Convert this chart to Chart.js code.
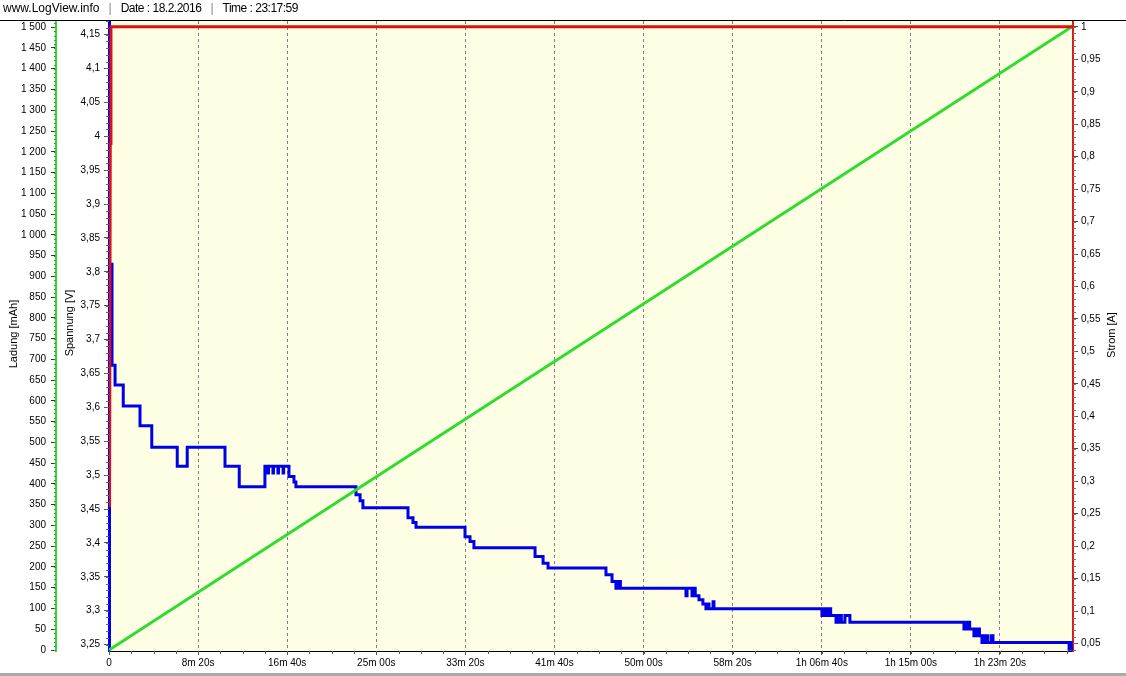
<!DOCTYPE html>
<html>
<head>
<meta charset="utf-8">
<script src="https://cdn.jsdelivr.net/npm/chart.js@4.4.1/dist/chart.umd.min.js"></script>
<style>
  html, body { margin: 0; padding: 0; background: #fff; }
  #wrap { position: relative; width: 1126px; height: 676px; }
  #head { position: absolute; left: 3px; top: 1px; font: 12px "Liberation Sans", Arial, sans-serif; color: #000; white-space: pre; }
  #head .sep { color: #888; margin: 0 9px; }
  #head .tight { letter-spacing: -0.5px; }
  canvas { position: absolute; left: 0; top: 0; }
</style>
</head>
<body>
<div id="wrap">
  <canvas id="logChart" width="1126" height="676"></canvas>
  <div id="head">www.LogView.info<span class="sep">|</span><span class="tight">Date : 18.2.2016</span><span class="sep">|</span><span class="tight">Time : 23:17:59</span></div>
</div>
<script>
// time axis ticks (s) and their labels
const timeTicks = [0, 500, 1000, 1500, 2000, 2500, 3000, 3500, 4000, 4500, 5000];
const timeLabels = ['0', '8m 20s', '16m 40s', '25m 00s', '33m 20s', '41m 40s', '50m 00s',
  '58m 20s', '1h 06m 40s', '1h 15m 00s', '1h 23m 20s'];

// Spannung [V], logged in steps (time in s -> new value)
const voltT = [0, 17, 34, 80, 174, 240, 383, 439, 651, 731,
  875, 892, 895, 920, 923, 948, 951, 977, 980, 1010, 1038, 1049,
  1386, 1409, 1425, 1678, 1706, 1723, 1998, 2026, 2048, 2391, 2436, 2464,
  2789, 2823, 2845, 2860, 2870, 3238, 3244, 3272, 3280, 3290, 3311, 3333, 3350, 3358, 3367, 3390, 3395,
  4001, 4010, 4020, 4035, 4050, 4080, 4095, 4110, 4130, 4158,
  4798, 4815, 4830, 4854, 4870, 4885, 4899, 4915, 4930, 4950, 4961,
  5388, 5395, 5400, 5410];
const voltV = [3.811, 3.662, 3.633, 3.602, 3.573, 3.541, 3.513, 3.541, 3.513, 3.483,
  3.513, 3.503, 3.513, 3.503, 3.513, 3.503, 3.513, 3.503, 3.513, 3.498, 3.49, 3.483,
  3.471, 3.462, 3.452, 3.437, 3.43, 3.423, 3.409, 3.402, 3.393, 3.38, 3.37, 3.363,
  3.353, 3.343, 3.333, 3.343, 3.333, 3.322, 3.333, 3.322, 3.333, 3.322, 3.316, 3.31, 3.303, 3.31, 3.303, 3.313, 3.303,
  3.293, 3.303, 3.293, 3.303, 3.293, 3.283, 3.293, 3.283, 3.293, 3.283,
  3.273, 3.283, 3.273, 3.263, 3.273, 3.263, 3.253, 3.263, 3.253, 3.263, 3.253,
  3.243, 3.253, 3.243, 3.243];

// Strom [A]
const currT = [3, 7, 11, 5410];
const currA = [0.26, 0.82, 1.0, 1.0];

// Ladung [mAh]
const chargeT = [0, 1409, 5410];
const chargeMah = [0, 392, 1503];

const toXY = (xs, ys) => xs.map((x, i) => ({ x: x, y: ys[i] }));
const comma = v => String(Math.round(v * 1000) / 1000).replace('.', ',');
const thousands = v => v >= 1000 ? Math.floor(v / 1000) + ' ' + String(v % 1000).padStart(3, '0') : String(v);

Chart.defaults.font.family = '"Liberation Sans", Arial, sans-serif';
Chart.defaults.font.size = 10;
Chart.defaults.color = '#000';

function minorTicks(ctx, scale, step, len, color, side) {
  ctx.save();
  ctx.strokeStyle = color;
  ctx.lineWidth = 1;
  ctx.beginPath();
  const first = Math.ceil(scale.min / step);
  const last = Math.floor(scale.max / step);
  for (let k = first; k <= last; k++) {
    const p = Math.round(scale.getPixelForValue(k * step)) + 0.5;
    if (side === 'bottom') { ctx.moveTo(p, scale.top); ctx.lineTo(p, scale.top + len); }
    else if (side === 'left') { ctx.moveTo(scale.right - len, p); ctx.lineTo(scale.right, p); }
    else { ctx.moveTo(scale.left, p); ctx.lineTo(scale.left + len, p); }
  }
  ctx.stroke();
  ctx.restore();
}

function vTitle(ctx, text, x, y) {
  ctx.save();
  ctx.translate(x, y);
  ctx.rotate(-Math.PI / 2);
  ctx.font = '11px "Liberation Sans", Arial, sans-serif';
  ctx.fillStyle = '#000';
  ctx.textAlign = 'center';
  ctx.textBaseline = 'middle';
  ctx.fillText(text, 0, 0);
  ctx.restore();
}

const frame = {
  id: 'frame',
  beforeDraw(chart) {
    const { ctx, chartArea: a } = chart;
    ctx.save();
    ctx.fillStyle = '#fff';
    ctx.fillRect(0, 0, chart.width, chart.height);
    ctx.fillStyle = '#FEFEE4';
    ctx.fillRect(a.left, a.top, a.right - a.left, a.bottom - a.top);
    ctx.restore();
  },
  afterDraw(chart) {
    const { ctx, chartArea: a, scales: s } = chart;
    minorTicks(ctx, s.x, 125, 3, '#555', 'bottom');
    minorTicks(ctx, s.yL, 10, 2, '#3a3', 'left');
    minorTicks(ctx, s.yV, 0.01, 3, '#668', 'left');
    minorTicks(ctx, s.yA, 0.01, 3, '#a66', 'right');
    ctx.save();
    ctx.strokeStyle = '#000';
    ctx.lineWidth = 1;
    ctx.beginPath();
    ctx.moveTo(0, a.top - 0.5);
    ctx.lineTo(chart.width, a.top - 0.5);
    ctx.stroke();
    ctx.fillStyle = '#ABABAB';
    ctx.fillRect(0, 673, chart.width, 3);
    ctx.restore();
    vTitle(ctx, 'Ladung [mAh]', 14, 334);
    vTitle(ctx, 'Spannung [V]', 70, 323);
    vTitle(ctx, 'Strom [A]', 1112, 335);
  }
};

new Chart(document.getElementById('logChart'), {
  type: 'line',
  data: {
    datasets: [
      { label: 'Strom', data: toXY(currT, currA), yAxisID: 'yA', borderColor: '#E01010', borderWidth: 3 },
      { label: 'Ladung', data: toXY(chargeT, chargeMah), yAxisID: 'yL', borderColor: '#2FDC2F', borderWidth: 3 },
      { label: 'Spannung', data: toXY(voltT, voltV), yAxisID: 'yV', borderColor: '#0000E8', borderWidth: 3, stepped: true }
    ]
  },
  options: {
    responsive: false,
    animation: false,
    events: [],
    layout: { padding: { top: 21, left: 0, right: 0, bottom: 0 }, autoPadding: false },
    elements: { point: { radius: 0 }, line: { tension: 0 } },
    plugins: { legend: { display: false }, tooltip: { enabled: false }, title: { display: false } },
    scales: {
      x: {
        type: 'linear', min: 0, max: 5410,
        afterFit: s => { s.height = 25; },
        // fixed ticks: the auto step would be stretched to 5410/11
        afterBuildTicks: s => { s.ticks = timeTicks.map(v => ({ value: v })); },
        ticks: { autoSkip: false, maxRotation: 0, padding: 2,
          callback: (v, i) => timeLabels[i] ?? '' },
        grid: { color: '#808080', lineWidth: 1, tickLength: 4, tickColor: '#555' },
        border: { color: '#000', width: 1, dash: [3, 3] }
      },
      yL: {
        type: 'linear', position: 'left', weight: 1, min: -2.4, max: 1515,
        afterFit: s => { s.width = 56; },
        ticks: { stepSize: 50, includeBounds: false, autoSkip: false, padding: 5, callback: v => thousands(v) },
        grid: { drawOnChartArea: false, tickLength: 5, tickColor: '#333' },
        border: { color: '#2FDC2F', width: 2 }
      },
      yV: {
        type: 'linear', position: 'left', weight: 0, min: 3.2405, max: 4.170,
        afterFit: s => { s.width = 53; },
        ticks: { stepSize: 0.05, includeBounds: false, autoSkip: false, padding: 4, callback: v => comma(v) },
        grid: { drawOnChartArea: false, tickLength: 5, tickColor: '#556' },
        border: { color: '#0000E8', width: 3 }
      },
      yA: {
        type: 'linear', position: 'right', min: 0.0384, max: 1.009,
        afterFit: s => { s.width = 53; },
        ticks: { stepSize: 0.05, includeBounds: false, autoSkip: false, padding: 3, callback: v => comma(v) },
        grid: { drawOnChartArea: false, tickLength: 5, tickColor: '#644' },
        border: { color: '#D02020', width: 2 }
      }
    }
  },
  plugins: [frame]
});
</script>
</body>
</html>
